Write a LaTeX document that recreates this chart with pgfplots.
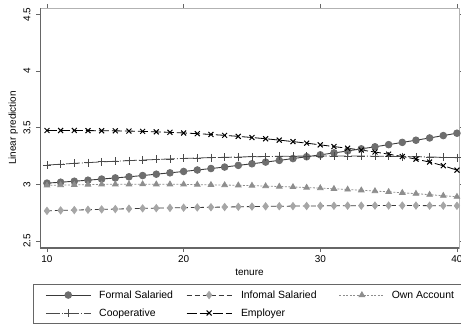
\documentclass[border=0pt]{standalone}
\usepackage{fontspec}
\setmainfont{Liberation Sans}
\usepackage{pgfplots}
\usepackage{pgfplotstable}
\pgfplotsset{compat=1.18}
\definecolor{cformal}{HTML}{6E6E6E}
\definecolor{cinformal}{HTML}{A6A6A6}
\definecolor{cown}{HTML}{8E8E8E}
\definecolor{ccoop}{HTML}{4A4A4A}
\definecolor{cline}{HTML}{3A3A3A}
\pgfplotstableread{
x formal informal own coop empl
10 3.010 2.765 2.990 3.170 3.475
11 3.018 2.769 2.993 3.177 3.475
12 3.027 2.772 2.995 3.185 3.475
13 3.036 2.775 2.997 3.191 3.474
14 3.046 2.778 2.999 3.198 3.473
15 3.056 2.781 3.000 3.203 3.472
16 3.066 2.784 3.000 3.209 3.470
17 3.077 2.787 3.001 3.214 3.467
18 3.089 2.789 3.000 3.219 3.463
19 3.101 2.791 3.000 3.224 3.459
20 3.113 2.793 2.999 3.228 3.453
21 3.126 2.795 2.997 3.232 3.447
22 3.139 2.797 2.995 3.235 3.440
23 3.152 2.799 2.993 3.238 3.432
24 3.167 2.801 2.991 3.241 3.423
25 3.181 2.803 2.988 3.243 3.413
26 3.196 2.805 2.984 3.245 3.402
27 3.211 2.806 2.980 3.247 3.390
28 3.227 2.807 2.976 3.248 3.377
29 3.243 2.808 2.971 3.249 3.363
30 3.260 2.809 2.966 3.250 3.348
31 3.277 2.810 2.960 3.250 3.333
32 3.294 2.811 2.954 3.250 3.318
33 3.313 2.811 2.947 3.249 3.302
34 3.331 2.812 2.940 3.248 3.285
35 3.350 2.812 2.933 3.247 3.266
36 3.370 2.812 2.925 3.245 3.245
37 3.389 2.812 2.917 3.243 3.222
38 3.409 2.811 2.908 3.241 3.196
39 3.430 2.811 2.899 3.238 3.164
40 3.451 2.810 2.890 3.235 3.125
}\datatable
\begin{document}
\begin{tikzpicture}
\path[use as bounding box] (-40bp,-79bp) rectangle (421bp,248bp);
\begin{axis}[
  at={(0,0)}, anchor=south west,
  scale only axis, width=419bp, height=240bp,
  xmin=9.49, xmax=40.15, ymin=2.437, ymax=4.557,
  xtick={10,20,30,40}, ytick={2.5,3,3.5,4,4.5},
  /pgf/number format/assume math mode=true,
  ticklabel style={font=\fontsize{10}{12}\selectfont},
  yticklabel style={rotate=90, anchor=south, yshift=2bp},
  tick align=outside, major tick length=4bp,
  tick style={draw=gray!80!black, line width=0.6bp},
  axis line style={draw=gray!60, line width=0.6bp},
  every axis x label/.style={at={(axis description cs:0.5,0)}, anchor=center, yshift=-24bp},
  every axis y label/.style={at={(axis description cs:-0.064,0.5)}, anchor=center, rotate=90},
  label style={font=\fontsize{10}{12}\selectfont},
  xlabel={tenure}, ylabel={Linear prediction},
  legend columns=3,
  legend cell align=left,
  legend image code/.code={\path (0bp,0bp) (50bp,0bp);
    \draw[mark repeat=2,mark phase=2] plot coordinates {(5bp,0bp)(27.5bp,0bp)(50bp,0bp)};},
  legend style={at={(0,0)}, anchor=north west, xshift=-7bp, yshift=-36bp,
    draw=gray!80!black, line width=0.6bp, inner xsep=7bp, inner ysep=6bp,
    column sep=0pt, row sep=8.5bp, nodes={inner sep=0pt},
    font=\fontsize{10.5}{12}\selectfont},
]
\draw[gray!80!black, line width=1.3bp] (rel axis cs:0,0) -- (rel axis cs:1,0);
\draw[gray!80!black, line width=0.8bp] (rel axis cs:0,0) -- (rel axis cs:0,1);
\addplot[cline, line width=0.9bp, mark=*, mark size=3.3bp,
  mark options={solid, draw=cformal, fill=cformal}] table[x=x, y=formal] {\datatable};
\addlegendentry{\makebox[90bp][l]{\rule[-2.5bp]{0pt}{10.5bp}\hspace{8bp}Formal Salaried}}
\addplot[cline, line width=0.8bp, dash pattern=on 5bp off 3bp, mark=diamond*, mark size=3.6bp,
  mark options={solid, draw=cinformal, fill=cinformal}] table[x=x, y=informal] {\datatable};
\addlegendentry{\makebox[102bp][l]{\rule[-2.5bp]{0pt}{10.5bp}\hspace{9bp}Infomal Salaried}}
\addplot[cown, line width=0.8bp, dash pattern=on 2bp off 1.5bp, mark=triangle*, mark size=3.2bp,
  mark options={solid, draw=cown, fill=cown}] table[x=x, y=own] {\datatable};
\addlegendentry{\makebox[69bp][l]{\rule[-2.5bp]{0pt}{10.5bp}\hspace{7bp}Own Account}}
\addplot[ccoop, line width=0.8bp, dash pattern=on 14bp off 2bp on 1bp off 2bp, mark=+, mark size=4bp,
  mark options={solid, draw=ccoop, line width=0.8bp}] table[x=x, y=coop] {\datatable};
\addlegendentry{\makebox[90bp][l]{\rule[-2.5bp]{0pt}{10.5bp}\hspace{8bp}Cooperative}}
\addplot[black, line width=0.8bp, dash pattern=on 10bp off 3bp, mark=x, mark size=3.5bp,
  mark options={solid, draw=black, line width=1bp}] table[x=x, y=empl] {\datatable};
\addlegendentry{\makebox[102bp][l]{\rule[-2.5bp]{0pt}{10.5bp}\hspace{9bp}Employer}}
\end{axis}
\end{tikzpicture}
\end{document}
